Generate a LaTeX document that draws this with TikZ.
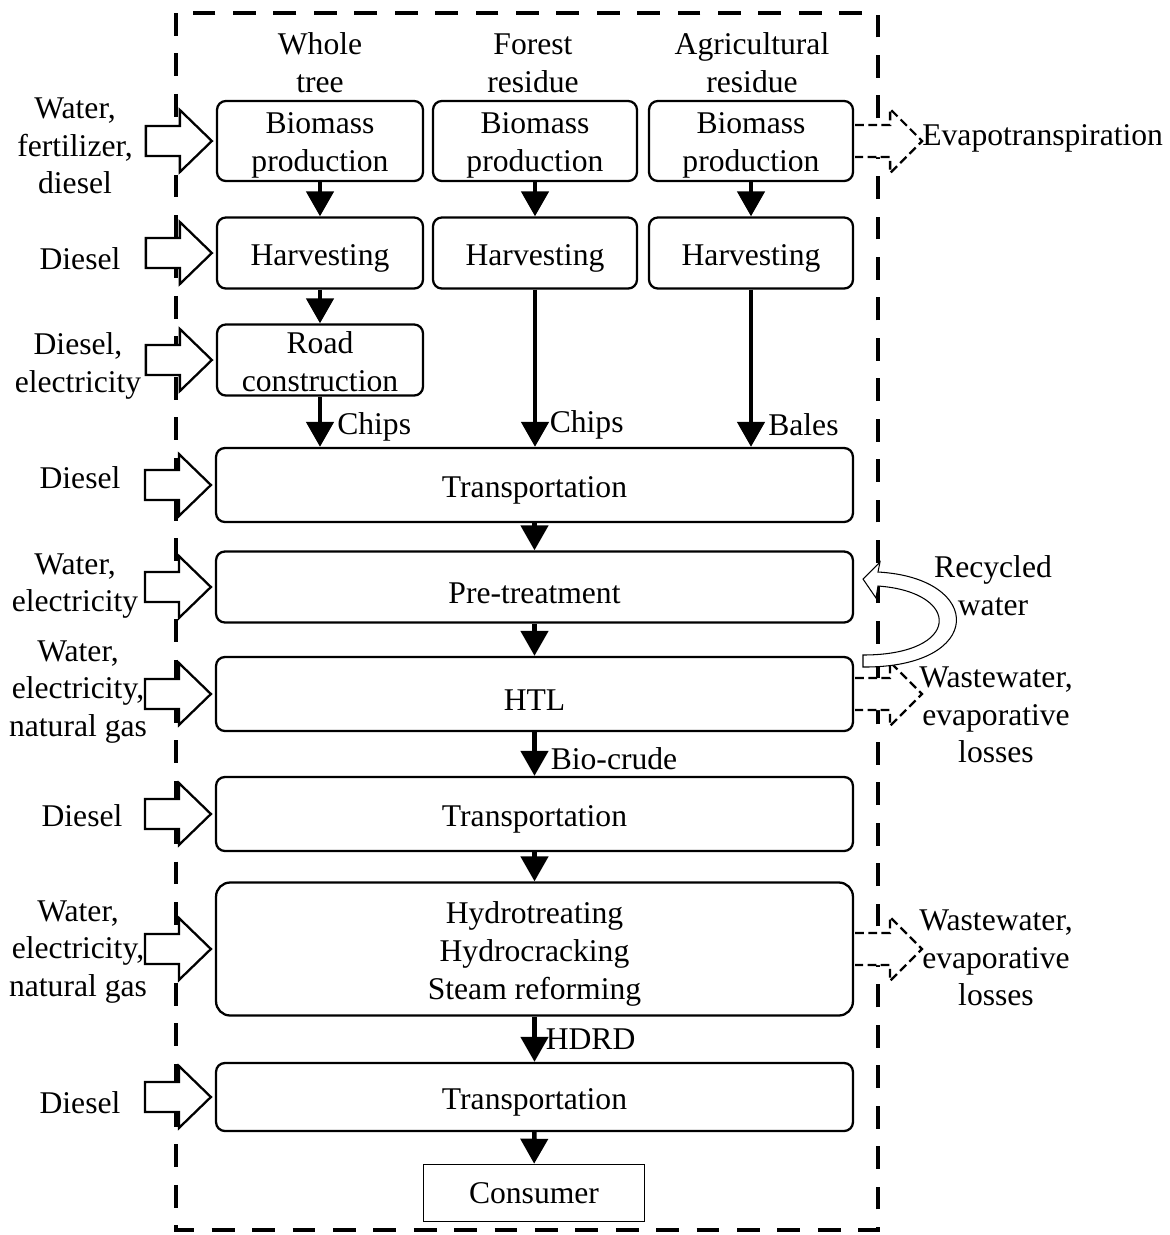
\documentclass[tikz,border=0pt]{standalone}
\usepackage{fontspec}
\setmainfont{Liberation Serif}
\usetikzlibrary{arrows.meta,positioning,backgrounds}

\newcommand{\lift}[1]{\rule{0pt}{#1}}

\begin{document}
\begin{tikzpicture}[x=0.02cm, y=-0.02cm, font=\fontsize{18}{21.5}\selectfont,
  stage/.style={draw, line width=1.3pt, rounded corners=5pt, align=center, inner sep=0pt, fill=white,
    execute at begin node={\rule{0pt}{18.5pt}}},
  flow/.style={line width=2.6pt, -{Triangle[length=0.5cm, width=0.54cm]}},
  lbl/.style={align=center, inner sep=0pt},
  tag/.style={right, inner sep=0pt, xshift=0.3cm},
  inarrow/.pic={\draw[line width=1.3pt, fill=white]
    (-4,0) -- (-36,-31) -- (-36,-15) -- (-70,-15) -- (-70,15) -- (-36,15) -- (-36,31) -- cycle;},
  outarrow/.pic={\draw[line width=1.3pt, fill=white, dash pattern=on 5pt off 2.5pt]
    (1,-16) -- (36,-16) -- (36,-32) -- (68,0) -- (36,32) -- (36,16) -- (1,16);}]
  \useasboundingbox (0,0) rectangle (1170,1235);

  % Column headings
  \node[lbl] (wholetree) at (320,63) {Whole\\tree};
  \node[lbl] (forest) at (533,63) {Forest\\residue};
  \node[lbl] (agri) at (752,63) {Agricultural\\residue};

  % Feedstock stages
  \node[stage, minimum width=4.12cm, minimum height=1.6cm] (bio1) at (320,141) {\lift{17pt}Biomass\\production};
  \node[stage, minimum width=4.08cm, minimum height=1.6cm] (bio2) at (535,141) {\lift{17pt}Biomass\\production};
  \node[stage, minimum width=4.08cm, minimum height=1.6cm] (bio3) at (751,141) {\lift{17pt}Biomass\\production};
  \node[stage, minimum width=4.12cm, minimum height=1.42cm] (har1) at (320,253) {Harvesting};
  \node[stage, minimum width=4.08cm, minimum height=1.42cm] (har2) at (535,253) {Harvesting};
  \node[stage, minimum width=4.08cm, minimum height=1.42cm] (har3) at (751,253) {Harvesting};
  \node[stage, minimum width=4.12cm, minimum height=1.42cm] (road) at (320,360) {\lift{14.5pt}Road\\construction};

  % Conversion chain
  \node[stage, minimum width=12.74cm, minimum height=1.48cm] (trans1) at (534.5,485) {Transportation};
  \node[stage, minimum width=12.74cm, minimum height=1.42cm] (pretreat) at (534.5,587) {Pre-treatment};
  \node[stage, minimum width=12.74cm, minimum height=1.48cm] (htl) at (534.5,694) {HTL};
  \node[stage, minimum width=12.74cm, minimum height=1.48cm] (trans2) at (534.5,814) {Transportation};
  \node[stage, minimum width=12.74cm, minimum height=2.66cm, rounded corners=8pt] (hydro) at (534.5,949) {\lift{18pt}Hydrotreating\\Hydrocracking\\Steam reforming};
  \node[stage, minimum width=12.74cm, minimum height=1.36cm] (trans3) at (534.5,1097) {Transportation};
  \node[draw, line width=0.9pt, minimum width=4.42cm, minimum height=1.14cm] (consumer) at (534,1193) {Consumer};

  % System boundary
  \begin{scope}[on background layer]
    \draw[line width=2.8pt, dash pattern=on 13pt off 10pt] (176,13) rectangle (878,1230);
  \end{scope}

  % Flows
  \draw[flow] (bio1) -- (har1);
  \draw[flow] (har1) -- (road);
  \draw[flow] (road) -- (road.south |- trans1.north) node[tag, pos=0.6] (chips1) {Chips};
  \draw[flow] (bio2) -- (har2);
  \draw[flow] (har2) -- (har2.south |- trans1.north) node[tag, pos=0.86, xshift=-0.05cm] (chips2) {Chips};
  \draw[flow] (bio3) -- (har3);
  \draw[flow] (har3) -- (har3.south |- trans1.north) node[tag, pos=0.86] (bales) {Bales};
  \draw[flow] (trans1) -- (pretreat);
  \draw[flow] (pretreat) -- (htl);
  \draw[flow] (htl) -- (trans2) node[tag, pos=0.6, xshift=-0.02cm] (biocrude) {Bio-crude};
  \draw[flow] (trans2) -- (hydro);
  \draw[flow] (hydro) -- (trans3) node[tag, pos=0.5, xshift=-0.12cm] (hdrd) {HDRD};
  \draw[flow] (trans3) -- (consumer);

  % Inputs
  \node[lbl] (in1) at (75,146) {Water,\\fertilizer,\\diesel};
  \node[lbl] (in2) at (80,259) {Diesel};
  \node[lbl] (in3) at (78,366) {Diesel,\\electricity};
  \node[lbl] (in4) at (80,478) {Diesel};
  \node[lbl] (in5) at (75,586) {Water,\\electricity};
  \node[lbl] (in6) at (78,692) {Water,\\electricity,\\natural gas};
  \node[lbl] (in7) at (82,816) {Diesel};
  \node[lbl] (in8) at (78,952) {Water,\\electricity,\\natural gas};
  \node[lbl] (in9) at (80,1103) {Diesel};
  \foreach \s in {bio1,har1,road,trans1,pretreat,htl,trans2,hydro,trans3}
    \pic at (\s.west) {inarrow};

  % Outputs
  \foreach \s in {bio3,htl,hydro}
    \pic at (\s.east) {outarrow};
  \node[right, inner sep=0pt] (evap) at (922,138) {Evapotranspiration};
  \node[lbl] (waste1) at (996,715) {Wastewater,\\evaporative\\losses};
  \node[lbl] (waste2) at (996,958) {Wastewater,\\evaporative\\losses};

  % Recycled water
  \draw[line width=0.6pt, fill=white] (878,572) .. controls (985,578) and (985,668) .. (863,667)
    -- (863,655) .. controls (962,655) and (962,592) .. (878,586) -- (876,598) -- (863,579) -- (880,562) -- cycle;
  \node[lbl] (recycled) at (993,586) {Recycled\\water};
\end{tikzpicture}
\end{document}
